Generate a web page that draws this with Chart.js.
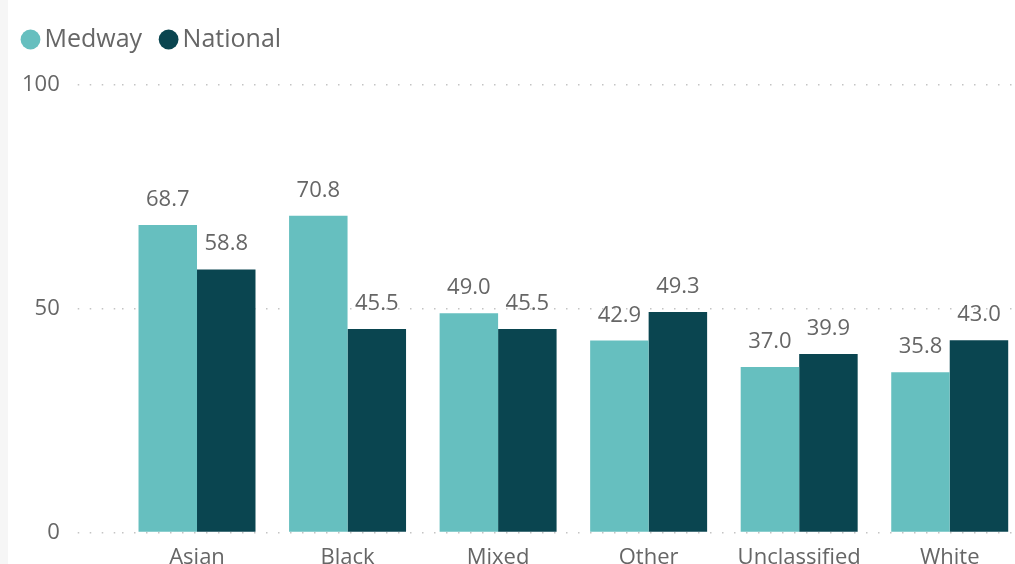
<!DOCTYPE html>
<html>
<head>
<meta charset="utf-8">
<script src="https://cdn.jsdelivr.net/npm/chart.js@4"></script>
<style>
  html, body { margin: 0; padding: 0; background: #fff; overflow: hidden; }
  body { width: 1015px; height: 564px; position: relative; }
  #strip { position: absolute; left: 0; top: 0; width: 8px; height: 564px; background: #f6f6f6; }
  #wrap { position: absolute; left: 0; top: 0; width: 1025px; height: 575px; }
</style>
</head>
<body>
<div id="wrap"><canvas id="myChart"></canvas></div>
<div id="strip"></div>
<script>
// data
const categories = ['Asian', 'Black', 'Mixed', 'Other', 'Unclassified', 'White'];
const medway = [68.7, 70.8, 49.0, 42.9, 37.0, 35.8];
const national = [58.8, 45.5, 45.5, 49.3, 39.9, 43.0];
const yTicks = [0, 50, 100];

const fontFam = '"Open Sans", "Noto Sans", sans-serif';
const grey = '#666666';
const dots = [1.5, 10.5];

// draws the value above every bar
const barLabels = {
    id: 'barLabels',
    afterDatasetsDraw(chart) {
        const ctx = chart.ctx;
        ctx.save();
        ctx.font = '22px ' + fontFam;
        ctx.fillStyle = grey;
        ctx.textAlign = 'center';
        ctx.textBaseline = 'alphabetic';
        chart.data.datasets.forEach((ds, i) => {
            chart.getDatasetMeta(i).data.forEach((bar, j) => {
                ctx.fillText(ds.data[j].toFixed(1), bar.x, bar.y - 19);
            });
        });
        ctx.restore();
    }
};

// more room under the legend
const legendGap = {
    id: 'legendGap',
    beforeInit(chart) {
        const fit = chart.legend.fit;
        chart.legend.fit = function () {
            fit.call(this);
            this.height += 23;
        };
    }
};

const ctx = document.getElementById('myChart');
new Chart(ctx, {
    type: 'bar',
    data: {
        labels: categories,
        datasets: [{
            label: 'Medway',
            data: medway,
            backgroundColor: '#66BFBF'
        }, {
            label: 'National',
            data: national,
            backgroundColor: '#0A4550'
        }]
    },
    options: {
        responsive: true,
        maintainAspectRatio: false,
        animation: false,
        layout: { padding: { top: 2, left: 4, right: 0, bottom: 0 } },
        datasets: {
            bar: { categoryPercentage: 0.777, barPercentage: 1.0 }
        },
        plugins: {
            tooltip: { enabled: false },
            legend: {
                position: 'top',
                align: 'start',
                labels: {
                    usePointStyle: true,
                    pointStyle: 'circle',
                    boxWidth: 3,
                    boxHeight: 14,
                    padding: 25,
                    color: grey,
                    font: { family: fontFam, size: 25 }
                }
            }
        },
        scales: {
            x: {
                grid: { display: false },
                border: { display: false },
                ticks: { color: grey, font: { family: fontFam, size: 22 }, padding: 4 }
            },
            y: {
                min: 0,
                max: 100,
                afterBuildTicks: axis => { axis.ticks = yTicks.map(v => ({ value: v })); },
                border: { display: false, dash: dots },
                grid: {
                    color: '#c4c4c4',
                    lineWidth: 1.5,
                    tickLength: 44,
                    tickBorderDash: dots,
                    tickColor: '#c4c4c4'
                },
                ticks: { color: grey, font: { family: fontFam, size: 22 }, padding: 18 }
            }
        }
    },
    plugins: [barLabels, legendGap]
});
</script>
</body>
</html>
